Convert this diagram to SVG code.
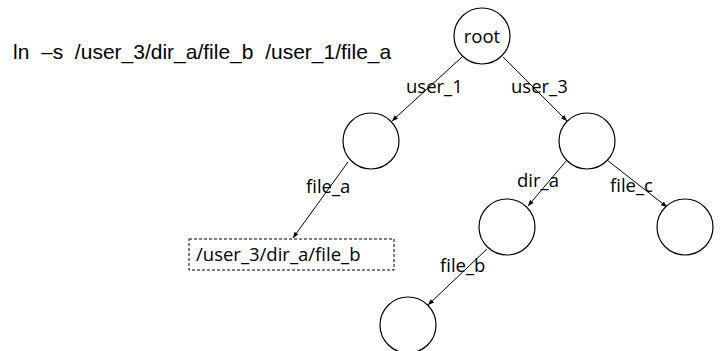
<svg xmlns="http://www.w3.org/2000/svg" width="720" height="351" viewBox="0 0 720 351">
  <style>
    .node { fill: #fff; stroke: #000; stroke-width: 1.2; }
    .edge { stroke: #000; stroke-width: 1; fill: none; marker-end: url(#arrow); }
    .lbl { font-family: "Open Sans", "Noto Sans", sans-serif; font-size: 18.5px; fill: #000; }
    .cmd { font-family: "Liberation Sans", Arial, sans-serif; font-size: 21px; fill: #000; }
    .link { fill: #fff; stroke: #000; stroke-width: 1; stroke-dasharray: 3 2; }
  </style>
  <defs>
    <marker id="arrow" viewBox="0 0 10 10" refX="10" refY="5" markerWidth="6" markerHeight="6" orient="auto" markerUnits="userSpaceOnUse">
      <path d="M0,1 L10,5 L0,9 z" fill="#000"/>
    </marker>
  </defs>

  <rect width="720" height="351" fill="#fff"/>

  <text class="cmd" x="13" y="59" xml:space="preserve">ln  –s  /user_3/dir_a/file_b  /user_1/file_a</text>

  <g id="connectors">
    <line class="edge" x1="462" y1="57" x2="392" y2="121"/>
    <line class="edge" x1="503" y1="57" x2="567" y2="121"/>
    <line class="edge" x1="348" y1="162" x2="293" y2="238"/>
    <line class="edge" x1="567" y1="160" x2="528" y2="206"/>
    <line class="edge" x1="607" y1="160" x2="667" y2="207"/>
    <line class="edge" x1="487" y1="249" x2="428" y2="305"/>
    <text class="lbl" x="406" y="93">user_1</text>
    <text class="lbl" x="511" y="93">user_3</text>
    <text class="lbl" x="306" y="193">file_a</text>
    <text class="lbl" x="517" y="187">dir_a</text>
    <text class="lbl" x="610" y="192">file_c</text>
    <text class="lbl" x="440" y="272">file_b</text>
  </g>

  <g id="root">
    <circle class="node" cx="482" cy="36" r="28"/>
    <text class="lbl" x="482" y="43" text-anchor="middle">root</text>
  </g>
  <g id="user_1">
    <circle class="node" cx="371" cy="141" r="28"/>
  </g>
  <g id="user_3">
    <circle class="node" cx="587" cy="141" r="28"/>
  </g>
  <g id="file_a">
    <rect class="link" x="189" y="239" width="205" height="31"/>
    <text class="lbl" x="196" y="261" font-size="20">/user_3/dir_a/file_b</text>
  </g>
  <g id="dir_a">
    <circle class="node" cx="507" cy="227" r="28"/>
  </g>
  <g id="file_c">
    <circle class="node" cx="685" cy="227" r="28"/>
  </g>
  <g id="file_b">
    <circle class="node" cx="408" cy="325" r="28"/>
  </g>
</svg>
